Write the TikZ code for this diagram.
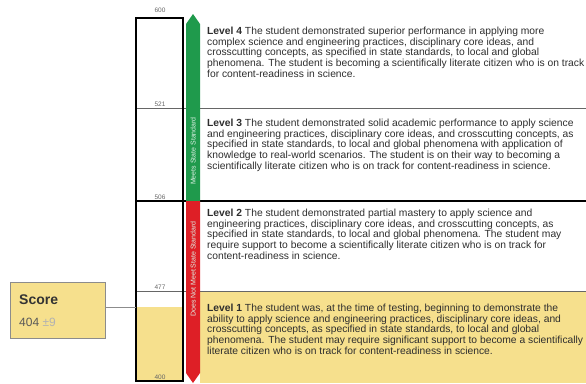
\documentclass[tikz,border=0pt]{standalone}
\usepackage{fontspec}
\setmainfont{Liberation Sans}
\definecolor{scoreyellow}{HTML}{F6E08D}
\definecolor{meetgreen}{HTML}{1F9A4C}
\definecolor{notred}{HTML}{DE1F26}
\definecolor{txtgray}{HTML}{2E2E2E}
\tikzset{
  leveltext/.style={anchor=north west, inner sep=0pt, align=left, text=txtgray,
    font=\fontsize{10.3}{10.6}\selectfont},
  ticklabel/.style={anchor=south, inner sep=1pt, text=black!60, font=\fontsize{6.5}{6.5}\selectfont},
  barlabel/.style={rotate=90, text=white!85!meetgreen, inner sep=0pt, font=\fontsize{7}{7}\selectfont}
}
\begin{document}
\begin{tikzpicture}[x=1pt, y=-1pt]
\useasboundingbox (0,0) rectangle (586,383);
\clip (0,0) rectangle (586,383);
% level 1 band
\fill[scoreyellow] (200,291) rectangle (586,383);
\fill[scoreyellow] (136,307) rectangle (183,381);

% separators
\draw[black!60, thin] (136,108)--(586,108);
\draw[black!60, thin] (136,291)--(586,291);
\draw[very thick] (136,201)--(586,201);

% scale column
\draw[very thick] (136,18) rectangle (183,381);
\node[ticklabel] (t600) at (160,14) {600};
\node[ticklabel] (t521) at (160,108) {521};
\node[ticklabel] (t506) at (160,201) {506};
\node[ticklabel] (t477) at (160,291) {477};
\node[ticklabel] (t400) at (160,381) {400};

% standard bars
\fill[meetgreen] (186,201)--(186,24)--(193,14)--(200,24)--(200,201)--cycle;
\fill[notred] (186,201)--(186,373)--(193,383)--(200,373)--(200,201)--cycle;
\node[barlabel] (meets) at (193,151) {Meets State Standard};
\node[barlabel] (notmeets) at (193,269) {Does Not Meet State Standard};

% level descriptions
\node[leveltext] (lev4) at (207,27) {\textbf{Level 4} The student demonstrated superior performance in applying more\\
complex science and engineering practices, disciplinary core ideas, and\\
crosscutting concepts, as specified in state standards, to local and global\\
phenomena. The student is becoming a scientifically literate citizen who is on track\\
for content-readiness in science.};
\node[leveltext] (lev3) at (207,119) {\textbf{Level 3} The student demonstrated solid academic performance to apply science\\
and engineering practices, disciplinary core ideas, and crosscutting concepts, as\\
specified in state standards, to local and global phenomena with application of\\
knowledge to real-world scenarios. The student is on their way to becoming a\\
scientifically literate citizen who is on track for content-readiness in science.};
\node[leveltext] (lev2) at (207,209) {\textbf{Level 2} The student demonstrated partial mastery to apply science and\\
engineering practices, disciplinary core ideas, and crosscutting concepts, as\\
specified in state standards, to local and global phenomena. The student may\\
require support to become a scientifically literate citizen who is on track for\\
content-readiness in science.};
\node[leveltext] (lev1) at (207,304) {\textbf{Level 1} The student was, at the time of testing, beginning to demonstrate the\\
ability to apply science and engineering practices, disciplinary core ideas, and\\
crosscutting concepts, as specified in state standards, to local and global\\
phenomena. The student may require significant support to become a scientifically\\
literate citizen who is on track for content-readiness in science.};

% score box
\node[draw=black!45, fill=scoreyellow, minimum width=95pt, minimum height=56pt,
  anchor=north west, inner sep=0pt] (score) at (10,282) {};
\node[anchor=west, inner sep=0pt, font=\fontsize{14}{14}\selectfont\bfseries, text=black!80] (scorett) at (19,300) {Score};
\node[anchor=west, inner sep=0pt, font=\fontsize{12}{12}\selectfont, text=black!65] (scoreval) at (19,322) {404 \textcolor{black!30}{±9}};
\coordinate (scalein) at (136,307);
\draw[black!45] (score.east |- scalein) -- (scalein);
\end{tikzpicture}
\end{document}
